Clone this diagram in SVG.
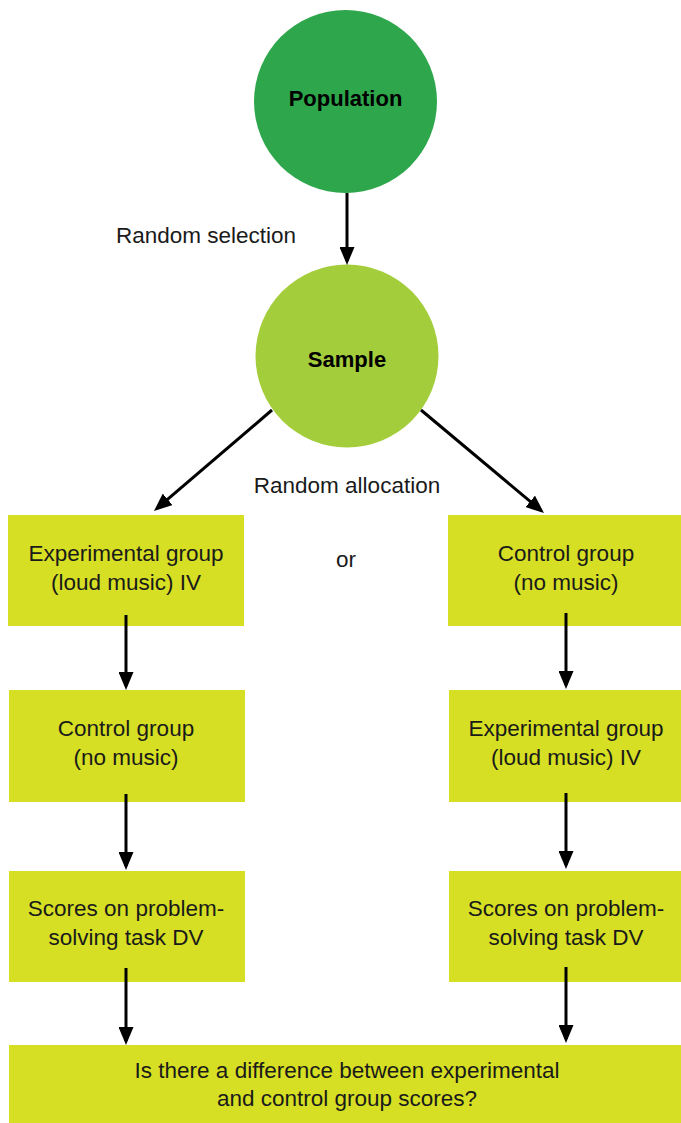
<svg xmlns="http://www.w3.org/2000/svg" width="681" height="1123" viewBox="0 0 681 1123">
  <style>
    text { font-family: "Liberation Sans", Arial, sans-serif; font-size: 22.5px; fill: #1a1a1a; text-anchor: middle; }
    .bold { font-weight: bold; font-size: 22px; fill: #000; }
    .label { text-anchor: start; }
    .box { fill: #d6df23; }
    .conn { stroke: #000; stroke-width: 3; fill: none; marker-end: url(#arrow); }
  </style>
  <defs>
    <marker id="arrow" markerUnits="userSpaceOnUse" markerWidth="18" markerHeight="15" viewBox="0 0 18 15" refX="14" refY="7.5" orient="auto">
      <path d="M0,0 L18,7.5 L0,15 z" fill="#000"/>
    </marker>
  </defs>

  <rect width="681" height="1123" fill="#fff"/>

  <g id="population">
    <circle cx="345.5" cy="101.5" r="91.5" fill="#2ea64b"/>
    <text class="bold" x="345.5" y="106">Population</text>
  </g>

  <g id="sample">
    <circle cx="347" cy="356" r="91.5" fill="#a3cd3b"/>
    <text class="bold" x="347" y="367">Sample</text>
  </g>

  <g id="left-experimental">
    <rect class="box" x="8" y="515" width="236" height="111"/>
    <text x="126" y="561">Experimental group</text>
    <text x="126" y="590">(loud music) IV</text>
  </g>

  <g id="right-control">
    <rect class="box" x="448" y="515" width="233" height="111"/>
    <text x="566" y="561">Control group</text>
    <text x="566" y="590">(no music)</text>
  </g>

  <g id="left-control">
    <rect class="box" x="9" y="690" width="236" height="112"/>
    <text x="126" y="736">Control group</text>
    <text x="126" y="765">(no music)</text>
  </g>

  <g id="right-experimental">
    <rect class="box" x="449" y="690" width="232" height="112"/>
    <text x="566" y="736">Experimental group</text>
    <text x="566" y="765">(loud music) IV</text>
  </g>

  <g id="left-scores">
    <rect class="box" x="9" y="871" width="236" height="111"/>
    <text x="126" y="916">Scores on problem-</text>
    <text x="126" y="945">solving task DV</text>
  </g>

  <g id="right-scores">
    <rect class="box" x="449" y="871" width="232" height="111"/>
    <text x="566" y="916">Scores on problem-</text>
    <text x="566" y="945">solving task DV</text>
  </g>

  <g id="comparison">
    <rect class="box" x="9" y="1045" width="672" height="78"/>
    <text x="347" y="1078">Is there a difference between experimental</text>
    <text x="347" y="1106">and control group scores?</text>
  </g>

  <!-- connectors, drawn over the node fills -->
  <g id="connectors">
    <line class="conn" x1="347" y1="193" x2="347" y2="261"/>
    <line class="conn" x1="272" y1="410" x2="157" y2="508.4"/>
    <line class="conn" x1="421" y1="410" x2="540.9" y2="510.4"/>
    <line class="conn" x1="126" y1="615" x2="126" y2="686"/>
    <line class="conn" x1="566" y1="613" x2="566" y2="685"/>
    <line class="conn" x1="126" y1="794" x2="126" y2="866"/>
    <line class="conn" x1="566" y1="793" x2="566" y2="865"/>
    <line class="conn" x1="126" y1="968" x2="126" y2="1041"/>
    <line class="conn" x1="566" y1="967" x2="566" y2="1039"/>
  </g>

  <!-- connector labels -->
  <text class="label" x="116" y="243">Random selection</text>
  <text x="347" y="493">Random allocation</text>
  <text x="346" y="567">or</text>
</svg>
